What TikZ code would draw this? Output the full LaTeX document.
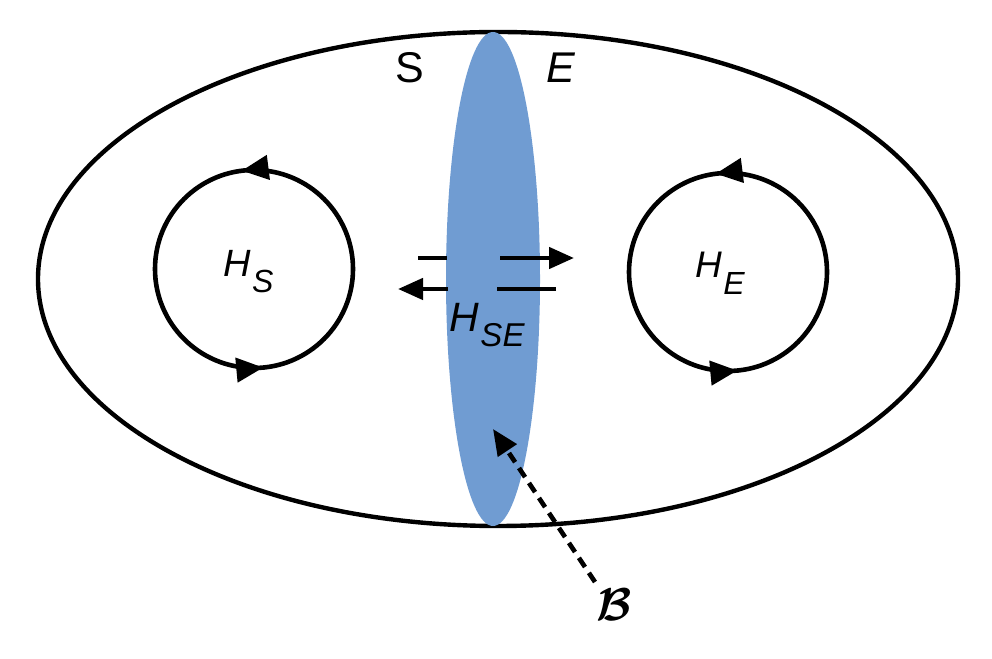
\documentclass[tikz,border=0pt]{standalone}
\usepackage{amsmath}
\usepackage{graphicx}
\usepackage{fontspec}
\setmainfont{Liberation Sans}
\usetikzlibrary{arrows.meta,decorations.markings}
\definecolor{bblue}{RGB}{112,156,210}
\newcommand\Hsub[3]{\textit{H}\kern0.04em\raisebox{-#3}{\fontsize{#2}{#2}\selectfont\textit{#1}}}
\begin{document}
\begin{tikzpicture}[x=1pt,y=1pt,
  outline/.style={line width=4.4pt},
  seg/.style={line width=4.6pt},
  tip/.style={-{Triangle[length=25pt,width=21pt]}},
  loop/.style={line width=4.6pt,postaction={decorate},
    decoration={markings,
      mark=at position 0.27 with {\arrow{Triangle[length=27pt,width=24pt]}},
      mark=at position 0.765 with {\arrow{Triangle[length=27pt,width=24pt]}}}},
  lbl/.style={inner sep=0pt}]
\useasboundingbox (0,0) rectangle (992,658);
% outer ellipse
\draw[outline] (498,379) ellipse [x radius=460, y radius=247];
% boundary region
\fill[bblue] (493,379) ellipse [x radius=47, y radius=247];
% subsystem loops
\draw[loop] (254,389) circle [radius=99];
\draw[loop] (728,386) circle [radius=99];
% coupling arrows
\coordinate (u1) at (418,400); \coordinate (u2) at (447,400);
\coordinate (u3) at (500,400); \coordinate (u4) at (574,400);
\coordinate (l1) at (556,369); \coordinate (l2) at (497,369);
\coordinate (l3) at (448,369); \coordinate (l4) at (398,369);
\draw[seg] (u1) -- (u2);
\draw[seg,tip] (u3) -- (u4);
\draw[seg] (l1) -- (l2);
\draw[seg,tip] (l3) -- (l4);
% labels
\node[lbl,anchor=base,font=\fontsize{43}{43}\selectfont] (S) at (410,575) {S};
\node[lbl,anchor=base,font=\fontsize{43}{43}\selectfont] (E) at (561,575) {\textit{E}};
\node[lbl,anchor=base west,font=\fontsize{38}{38}\selectfont] (HS) at (223,381) {\Hsub{S}{32}{16pt}};
\node[lbl,anchor=base west,font=\fontsize{37}{37}\selectfont] (HE) at (695,380) {\Hsub{E}{32}{17pt}};
\node[lbl,anchor=base west,font=\fontsize{41}{41}\selectfont] (HSE) at (449,326) {\Hsub{SE}{33}{15pt}};
\node[lbl] (B) at (614,53) {\scalebox{4.6}{$\boldsymbol{\mathcal{B}}$}};
\coordinate (btip) at (493,229);
\draw[seg,dash pattern=on 11pt off 7pt,-{Triangle[length=26pt,width=22pt]}] (595,76) -- (btip);
\end{tikzpicture}
\end{document}
